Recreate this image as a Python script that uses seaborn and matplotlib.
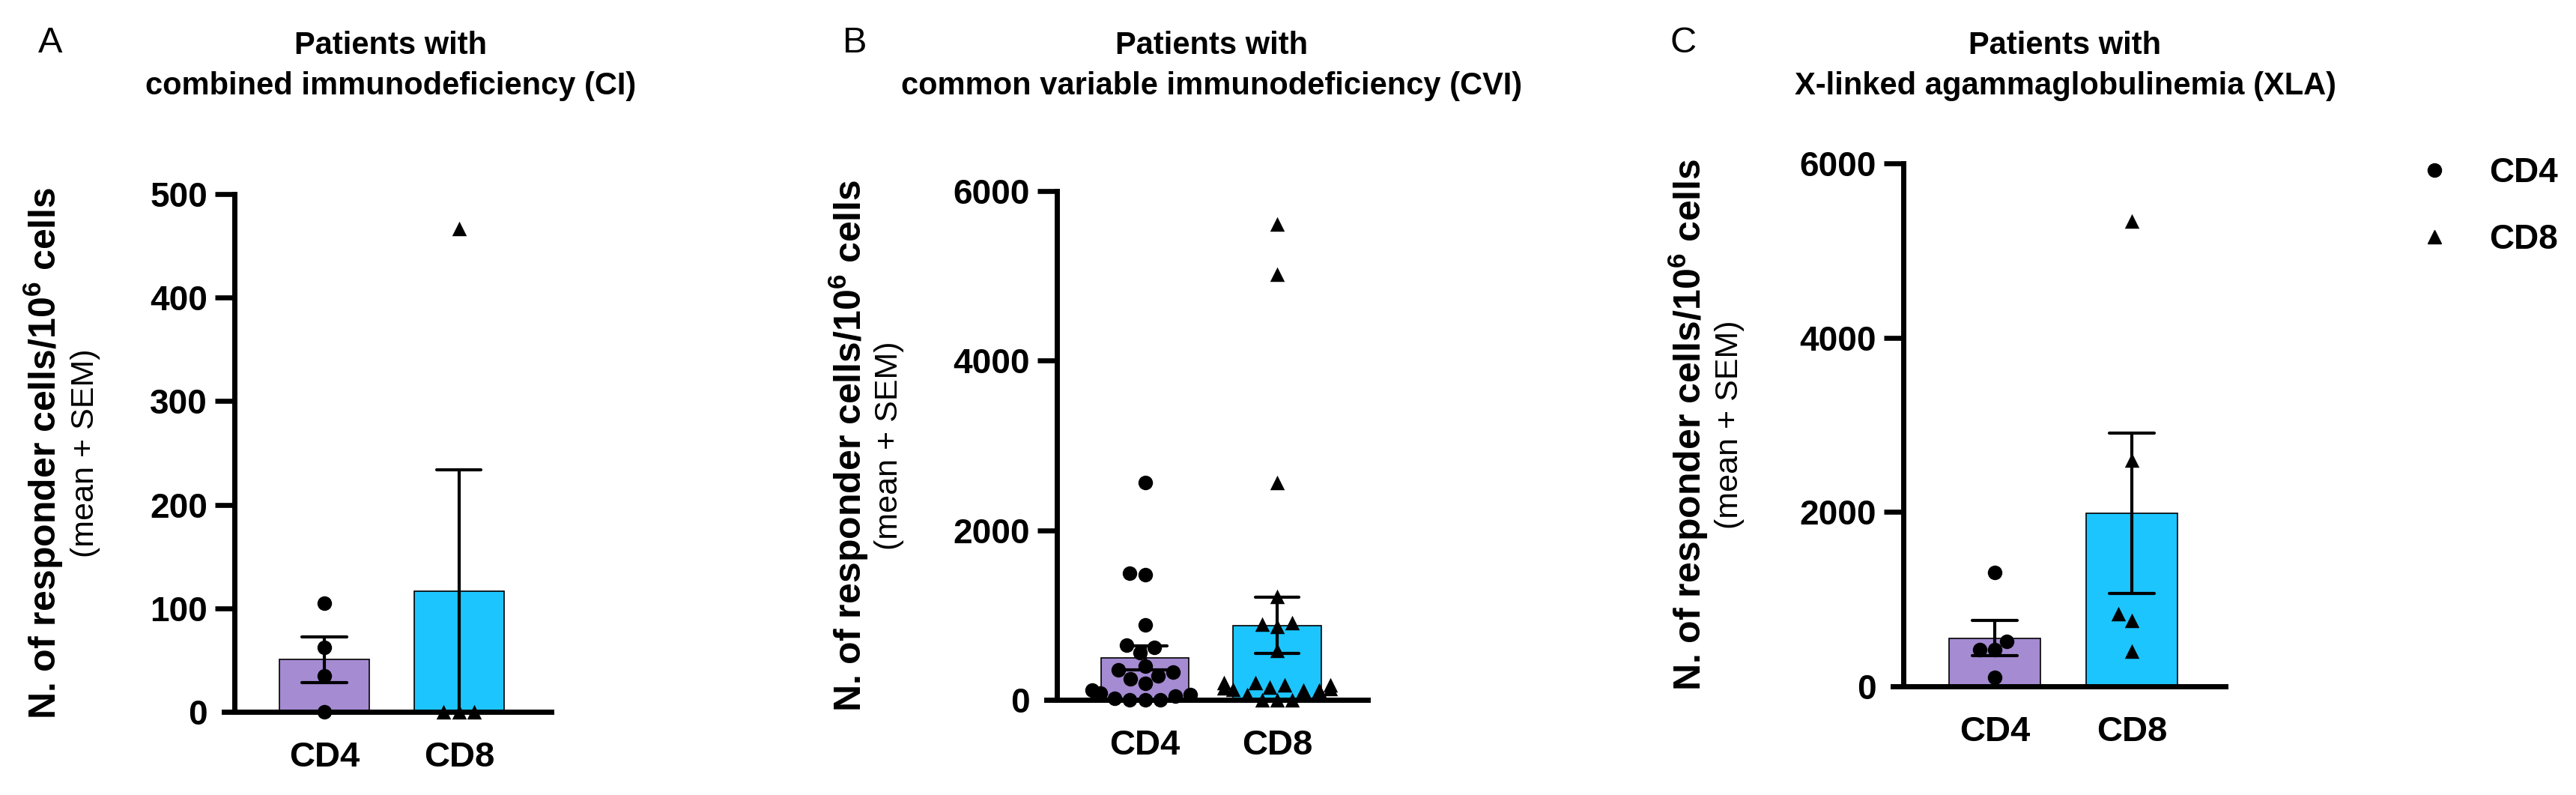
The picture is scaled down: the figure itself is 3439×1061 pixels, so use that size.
import numpy as np
import pandas as pd
import matplotlib
matplotlib.use('Agg')
import matplotlib.pyplot as plt
from matplotlib.lines import Line2D
import seaborn as sns

# valeurs (cellules répondeuses / 10^6 cellules)
groups = ['CD4', 'CD8']

ci_cd4 = [105, 62, 35, 0]
ci_cd8 = [467, 0, 0, 0]

cvi_cd4 = [2560, 1492, 1477, 881, 646, 617, 558, 396, 352, 323, 279,
           250, 191, 117, 80, 59, 40, 20, 0, 0, 0]
cvi_cd8 = [5610, 5020, 2564, 1219, 910, 896, 866, 587, 205, 205, 176,
           176, 150, 140, 130, 120, 117, 117, 59, 0, 0, 0]

xla_cd4 = [1310, 520, 420, 420, 100]
xla_cd8 = [5340, 2600, 838, 758, 401]

panel_letters = ['A', 'B', 'C']
title_line1 = ['Patients with', 'Patients with', 'Patients with']
title_line2 = ['combined immunodeficiency (CI)',
               'common variable immunodeficiency (CVI)',
               'X-linked agammaglobulinemia (XLA)']
y_ticks = [[0, 100, 200, 300, 400, 500],
           [0, 2000, 4000, 6000],
           [0, 2000, 4000, 6000]]

bar_colors = ['#A48BD2', '#1CC5FE']

sns.set_theme(style='white')
plt.rcParams['font.family'] = ['Liberation Sans', 'DejaVu Sans']
plt.rcParams['mathtext.fontset'] = 'custom'
plt.rcParams['mathtext.rm'] = 'Liberation Sans'
plt.rcParams['mathtext.bf'] = 'Liberation Sans:bold'
plt.rcParams['mathtext.default'] = 'bf'
for key in ['text.color', 'axes.labelcolor', 'xtick.color', 'ytick.color']:
    plt.rcParams[key] = 'black'

W, H = 3439, 1061
fig = plt.figure(figsize=(W / 100, H / 100), dpi=100)

# mise en page en pixels : gauche, droite, haut, zéro
boxes = [(299, 736, 259, 950), (1397, 1826, 255, 934), (2527, 2971, 218, 916)]
ylab_x = [58, 1133, 2254]
sublab_x = [114, 1187, 2309]
letter_x = [67, 1141, 2247]
title_x = [522, 1618, 2757]

datasets = [(ci_cd4, ci_cd8), (cvi_cd4, cvi_cd8), (xla_cd4, xla_cd8)]

for i, (cd4, cd8) in enumerate(datasets):
    df = pd.DataFrame({
        'cell': ['CD4'] * len(cd4) + ['CD8'] * len(cd8),
        'value': cd4 + cd8,
    })
    l, r, t, z = boxes[i]
    ax = fig.add_axes([l / W, 1 - z / H, (r - l) / W, (z - t) / H])

    sns.barplot(data=df, x='cell', y='value', order=groups, hue='cell',
                hue_order=groups, palette=bar_colors, saturation=1,
                legend=False, errorbar='se', capsize=0.33, width=0.667,
                edgecolor='black', linewidth=1.2,
                err_kws={'color': 'black', 'linewidth': 3}, ax=ax)
    sns.swarmplot(data=df[df['cell'] == 'CD4'], x='cell', y='value',
                  order=groups, color='black', marker='o', size=14,
                  zorder=3, clip_on=False, warn_thresh=1, ax=ax)
    sns.swarmplot(data=df[df['cell'] == 'CD8'], x='cell', y='value',
                  order=groups, color='black', marker='^', size=14,
                  zorder=3, clip_on=False, warn_thresh=1, ax=ax)

    ax.set_xlim(-0.745, 1.685)
    ax.set_ylim(0, y_ticks[i][-1])
    ax.set_yticks(y_ticks[i])
    ax.set_xlabel('')
    ax.set_ylabel('')
    ax.spines['top'].set_visible(False)
    ax.spines['right'].set_visible(False)
    ax.spines['left'].set_position(('data', -0.667))
    for side in ['left', 'bottom']:
        ax.spines[side].set_linewidth(5)
        ax.spines[side].set_color('black')
    ax.tick_params(axis='y', length=19, width=4.8, pad=7, color='black',
                   labelcolor='black', labelsize=33, left=True)
    ax.tick_params(axis='x', length=0, pad=28, labelcolor='black',
                   labelsize=34)
    for lab in ax.get_xticklabels() + ax.get_yticklabels():
        lab.set_fontweight('bold')
    ax.yaxis.get_major_ticks()[0].tick1line.set_visible(False)

    yc = 1 - (t + z) / 2 / H
    fig.text(ylab_x[i] / W, yc, 'N. of responder cells/10$^6$ cells',
             rotation=90, ha='center', va='center', fontsize=36,
             fontweight='bold')
    fig.text(sublab_x[i] / W, yc, '(mean + SEM)', rotation=90,
             ha='center', va='center', fontsize=31)

    fig.text(letter_x[i] / W, 1 - 58 / H, panel_letters[i], ha='center',
             va='center', fontsize=35)
    fig.text(title_x[i] / W, 1 - 61 / H, title_line1[i], ha='center',
             va='center', fontsize=30, fontweight='bold')
    fig.text(title_x[i] / W, 1 - 115 / H, title_line2[i], ha='center',
             va='center', fontsize=30, fontweight='bold')

handles = [Line2D([], [], marker='o', color='black', linestyle='none', markersize=13),
           Line2D([], [], marker='^', color='black', linestyle='none', markersize=13)]
fig.legend(handles, groups, loc='center left',
           bbox_to_anchor=(3227 / W, 1 - 275.5 / H), frameon=False,
           prop={'weight': 'bold', 'size': 33}, handlelength=1,
           handletextpad=1.1, labelspacing=1.0, borderpad=0,
           borderaxespad=0, labelcolor='black')

fig.savefig('out.png', dpi=100)
